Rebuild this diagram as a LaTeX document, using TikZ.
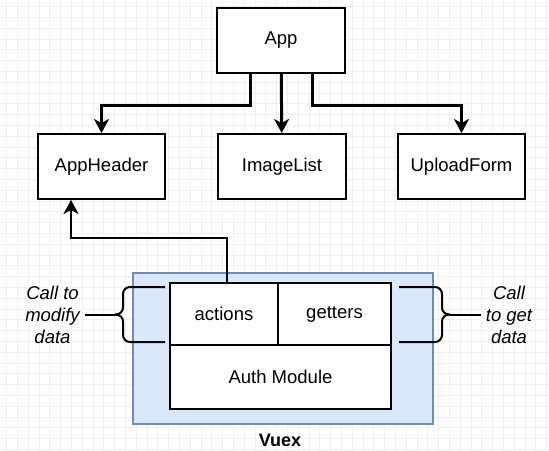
\documentclass[tikz,border=0pt]{standalone}
\usepackage{fontspec}
\setmainfont{Liberation Sans}
\usetikzlibrary{arrows.meta}
\definecolor{vuexfill}{RGB}{218,232,252}
\definecolor{vuexline}{RGB}{108,142,191}
\tikzstyle{comp}=[rectangle,draw=black,fill=white,line width=2pt,minimum width=128pt,minimum height=65pt,inner sep=0pt,font=\fontsize{18.5}{22}\selectfont]
\tikzstyle{part}=[comp,minimum height=62pt]
\tikzstyle{vuexbox}=[rectangle,draw=vuexline,fill=vuexfill,line width=1.5pt,minimum width=300pt,minimum height=151pt,inner sep=0pt]
\tikzstyle{arr}=[line width=3pt,-{Stealth[length=14pt,width=15pt,inset=4pt]}]
\tikzstyle{bracket}=[line width=2pt,rounded corners=7pt]
\tikzstyle{note}=[align=center,inner sep=5pt,font=\fontsize{18.5}{22}\selectfont\itshape]
\tikzstyle{gridline}=[black!6,line width=0.6pt]

\begin{document}
\begin{tikzpicture}[x=1pt,y=-1pt]
\useasboundingbox (0,0) rectangle (549,450);
% background grid
\foreach \i in {0,...,50} \draw[gridline] ({6.5+10.8*\i},0) -- ({6.5+10.8*\i},450);
\foreach \i in {0,...,41} \draw[gridline] (0,{6.5+10.8*\i}) -- (549,{6.5+10.8*\i});

% vuex store
\node[vuexbox] (vuex) at (283,348.5) {};
\node[font=\fontsize{18}{22}\selectfont\bfseries] (vuexlabel) at (280,440) {Vuex};

% vertices
\node[comp] (App) at (281,40.5) {App};
\node[comp,minimum width=127pt] (AppHeader) at (101.5,166.5) {AppHeader};
\node[comp] (ImageList) at (282,166.5) {ImageList};
\node[comp,minimum width=127pt] (UploadForm) at (461.5,166.5) {UploadForm};
\node[part,minimum width=108pt] (actions) at (224,314) {actions};
\node[part,minimum width=113pt] (getters) at (334.5,314) {getters};
\node[comp,minimum width=221pt,minimum height=64pt] (auth) at (280.5,377) {Auth Module};

\node[note] (modify) at (52.5,314.5) {Call to\\modify\\data};
\node[note] (get) at (509,314.5) {Call\\to get\\data};

% edges and paths
\draw[arr] ([xshift=-31pt]App.south) -- ++(0,31.5) -| (AppHeader.north);
\draw[arr] (App) -- (ImageList);
\draw[arr] ([xshift=31pt]App.south) -- ++(0,31.5) -| (UploadForm.north);
\draw[arr,line width=2.6pt] ([xshift=3pt]actions.north) -- ++(0,-44) -| ([xshift=-30.5pt]AppHeader.south);

% braces
\coordinate (ltop) at (165,287);
\coordinate (lbot) at (165,342);
\coordinate (ltip) at (115,314.5);
\draw[bracket] (ltop) -- (123,287) -- (123,314.5) -- (ltip);
\draw[bracket] (lbot) -- (123,342) -- (123,314.5) -- (ltip);
\draw[line width=2pt] (ltip) -- (modify);

\coordinate (rtop) at (399,287);
\coordinate (rbot) at (399,342);
\coordinate (rtip) at (450,314.5);
\draw[bracket] (rtop) -- (442,287) -- (442,314.5) -- (rtip);
\draw[bracket] (rbot) -- (442,342) -- (442,314.5) -- (rtip);
\draw[line width=2pt] (rtip) -- (get);
\end{tikzpicture}
\end{document}
